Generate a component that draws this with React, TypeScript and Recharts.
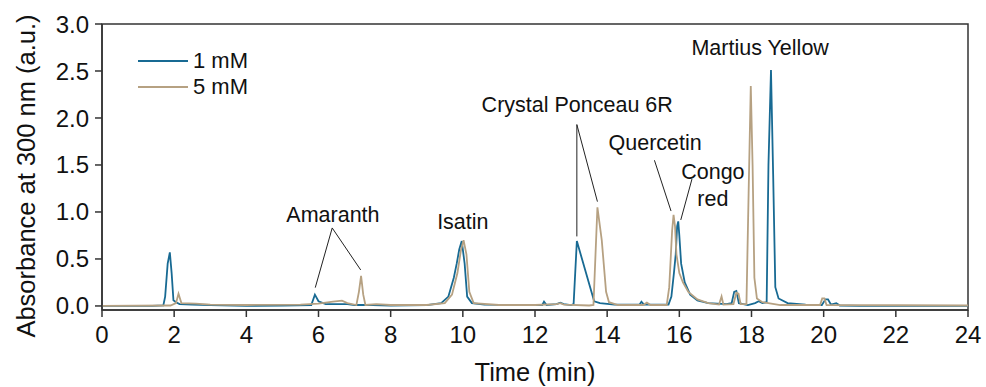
import React from "react";
import {
  LineChart,
  Line,
  XAxis,
  YAxis,
  Legend,
  ReferenceLine,
  ReferenceDot,
  ReferenceArea,
} from "recharts";

// chromatogram traces (time in min, absorbance in a.u.)
const oneMmTime = [
  0, 1.4, 1.7, 1.75, 1.82, 1.88, 1.93, 1.98, 2.05, 2.15, 2.5, 3.0, 4.0, 5.0, 5.8, 5.9, 6.0, 6.2, 6.8, 7.0,
  7.5, 8.0, 9.0, 9.4, 9.6, 9.75, 9.83, 9.9, 9.97, 10.05, 10.12, 10.25, 10.6, 11.5, 12.2, 12.25, 12.32, 12.6,
  12.7, 12.8, 13.0, 13.07, 13.16, 13.64, 13.8, 14.2, 14.9, 14.95, 15.02, 15.7, 15.78, 15.85, 15.9, 15.94,
  15.97, 16.0, 16.05, 16.15, 16.3, 16.5, 16.8, 17.3, 17.45, 17.52, 17.58, 17.65, 17.9, 18.1, 18.2, 18.3,
  18.42, 18.47, 18.54, 18.6, 18.66, 18.75, 19.0, 19.5, 19.95, 20.05, 20.12, 20.2, 20.35, 20.45, 21.0, 24,
];
const oneMmAbs = [
  0.0, 0.0, 0.005, 0.1, 0.45, 0.57, 0.35, 0.06, 0.04, 0.02, 0.015, 0.01, 0.0, 0.005, 0.01, 0.12, 0.05, 0.02,
  0.02, 0.01, 0.01, 0.005, 0.01, 0.03, 0.1, 0.3, 0.45, 0.6, 0.69, 0.45, 0.1, 0.03, 0.015, 0.01, 0.01, 0.045,
  0.01, 0.02, 0.035, 0.02, 0.01, 0.02, 0.69, 0.05, 0.03, 0.015, 0.015, 0.045, 0.015, 0.015, 0.1, 0.35, 0.55,
  0.85, 0.9, 0.75, 0.45, 0.25, 0.12, 0.06, 0.03, 0.02, 0.03, 0.15, 0.16, 0.03, 0.01, 0.03, 0.05, 0.03, 0.04,
  1.5, 2.51, 1.4, 0.2, 0.08, 0.03, 0.015, 0.01, 0.07, 0.07, 0.015, 0.03, 0.005, 0.0, 0.0,
];

const fiveMmTime = [
  0, 1.9, 2.05, 2.12, 2.2, 2.6, 3.0, 4.0, 5.5, 6.0, 6.4, 6.65, 6.8, 7.05, 7.12, 7.18, 7.24, 7.3, 7.6, 8.0,
  9.0, 9.5, 9.7, 9.85, 9.95, 10.02, 10.1, 10.18, 10.3, 11.0, 12.0, 12.6, 12.7, 12.8, 13.5, 13.62, 13.73,
  13.85, 13.97, 14.05, 14.3, 15.0, 15.1, 15.2, 15.65, 15.72, 15.8, 15.84, 15.88, 15.92, 16.0, 16.1, 16.25,
  16.5, 16.8, 17.1, 17.17, 17.22, 17.5, 17.58, 17.64, 17.7, 17.86, 17.92, 17.98, 18.03, 18.08, 18.15, 18.3,
  18.8, 19.9, 19.96, 20.02, 20.08, 24,
];
const fiveMmAbs = [
  0.0, 0.005, 0.03, 0.13, 0.03, 0.025, 0.015, 0.01, 0.015, 0.025, 0.045, 0.056, 0.03, 0.01, 0.15, 0.32, 0.12,
  0.01, 0.02, 0.01, 0.01, 0.03, 0.12, 0.35, 0.6, 0.7, 0.55, 0.15, 0.03, 0.01, 0.01, 0.02, 0.03, 0.015, 0.005,
  0.01, 1.05, 0.7, 0.15, 0.04, 0.01, 0.01, 0.035, 0.01, 0.01, 0.2, 0.8, 0.97, 0.85, 0.55, 0.35, 0.25, 0.15,
  0.07, 0.03, 0.015, 0.1, 0.015, 0.02, 0.14, 0.13, 0.02, 0.02, 1.2, 2.34, 1.5, 0.3, 0.08, 0.04, 0.01, 0.01,
  0.08, 0.08, 0.01, 0.005,
];

const seriesNames = ["1 mM", "5 mM"];
const xTicks = [0, 2, 4, 6, 8, 10, 12, 14, 16, 18, 20, 22, 24];
const xMinorTicks = [1, 3, 5, 7, 9, 11, 13, 15, 17, 19, 21, 23];
const yTicks = [0, 0.5, 1.0, 1.5, 2.0, 2.5, 3.0];
const yMinorTicks = [0.25, 0.75, 1.25, 1.75, 2.25, 2.75];

// peak labels (data coords) and their leader lines
const peakLabels = [
  { text: "Amaranth", t: 6.4, a: 0.97 },
  { text: "Isatin", t: 10.0, a: 0.9 },
  { text: "Crystal Ponceau 6R", t: 13.17, a: 2.14 },
  { text: "Quercetin", t: 15.33, a: 1.74 },
  { text: "Congo", t: 16.93, a: 1.43 },
  { text: "red", t: 16.93, a: 1.15 },
  { text: "Martius Yellow", t: 18.24, a: 2.75 },
];
const leaders = [
  [[6.38, 0.83], [5.91, 0.195]],
  [[6.38, 0.83], [7.17, 0.383]],
  [[13.16, 1.93], [13.16, 0.74]],
  [[13.16, 1.93], [13.73, 1.11]],
  [[15.31, 1.55], [15.77, 1.01]],
  [[16.35, 1.35], [16.04, 0.915]],
];

const BLUE = "#186a93";
const TAN = "#b6a182";
const INK = "#111";

const oneMm = oneMmTime.map((t, i) => ({ t, abs: oneMmAbs[i] }));
const fiveMm = fiveMmTime.map((t, i) => ({ t, abs: fiveMmAbs[i] }));

function LegendBox({ payload }: any) {
  return (
    <div style={{ fontSize: 22, color: INK, lineHeight: "26px" }}>
      {(payload || []).map((p: any) => (
        <div key={p.value} style={{ display: "flex", alignItems: "center", height: 26 }}>
          <svg width={52} height={26}>
            <line x1={0} x2={50} y1={13} y2={13} stroke={p.color} strokeWidth={2} />
          </svg>
          <span style={{ marginLeft: 3 }}>{p.value}</span>
        </div>
      ))}
    </div>
  );
}

export default function App() {
  return (
    <div style={{ position: "absolute", left: 0, top: 0, fontFamily: "'Liberation Sans', Arial, sans-serif", background: "#fff" }}>
      <LineChart width={986} height={387} margin={{ top: 24, right: 18, bottom: 0, left: 0 }}>
        <XAxis
          xAxisId="minor"
          type="number"
          dataKey="t"
          domain={[0, 24]}
          ticks={xMinorTicks}
          height={0}
          tickSize={4}
          tickFormatter={() => ""}
          axisLine={false}
          stroke="#333"
        />
        <XAxis
          type="number"
          dataKey="t"
          domain={[0, 24]}
          ticks={xTicks}
          height={77}
          tickSize={7}
          tickMargin={9}
          tick={{ fontSize: 24, fill: INK }}
          stroke="#333"
          strokeWidth={1.5}
          label={{
            content: ({ viewBox }: any) => (
              <text
                x={viewBox.x + viewBox.width / 2}
                y={viewBox.y + 71}
                textAnchor="middle"
                fontSize={25.5}
                fill={INK}
              >
                Time (min)
              </text>
            ),
          }}
        />
        <YAxis
          yAxisId="minor"
          type="number"
          domain={[-0.043, 3.0]}
          ticks={yMinorTicks}
          width={0}
          tickSize={4}
          tickFormatter={() => ""}
          axisLine={false}
          stroke="#333"
        />
        <YAxis
          type="number"
          domain={[-0.043, 3.0]}
          ticks={yTicks}
          width={102}
          tickSize={7}
          tickMargin={6}
          tick={{ fontSize: 24, fill: INK }}
          tickFormatter={(v: number) => v.toFixed(1)}
          stroke="#333"
          strokeWidth={1.5}
          label={{
            content: ({ viewBox }: any) => (
              <text
                x={viewBox.x + 28}
                y={176}
                transform={`rotate(-90 ${viewBox.x + 28} 176)`}
                textAnchor="middle"
                dominantBaseline="middle"
                fontSize={25.5}
                fill={INK}
              >
                Absorbance at 300 nm (a.u.)
              </text>
            ),
          }}
        />
        <ReferenceArea x1={0} x2={24} y1={-0.043} y2={3.0} fill="none" stroke="#333" strokeWidth={1.5} ifOverflow="visible" />
        <Legend
          verticalAlign="middle"
          align="center"
          layout="horizontal"
          content={<LegendBox />}
          wrapperStyle={{ left: 138, top: 48, width: "auto", height: "auto" }}
        />
        {leaders.map((seg, i) => (
          <ReferenceLine
            key={i}
            segment={[{ x: seg[0][0], y: seg[0][1] }, { x: seg[1][0], y: seg[1][1] }]}
            stroke="#222"
            strokeWidth={1}
          />
        ))}
        <Line data={oneMm} dataKey="abs" name={seriesNames[0]} stroke={BLUE} strokeWidth={1.8} dot={false} type="linear" isAnimationActive={false} />
        <Line data={fiveMm} dataKey="abs" name={seriesNames[1]} stroke={TAN} strokeWidth={1.8} dot={false} type="linear" isAnimationActive={false} />
        {peakLabels.map((p) => (
          <ReferenceDot
            key={p.text}
            x={p.t}
            y={p.a}
            r={0}
            fill="none"
            stroke="none"
            label={{ value: p.text, position: "center", fontSize: 21.5, fill: INK }}
          />
        ))}
      </LineChart>
    </div>
  );
}
